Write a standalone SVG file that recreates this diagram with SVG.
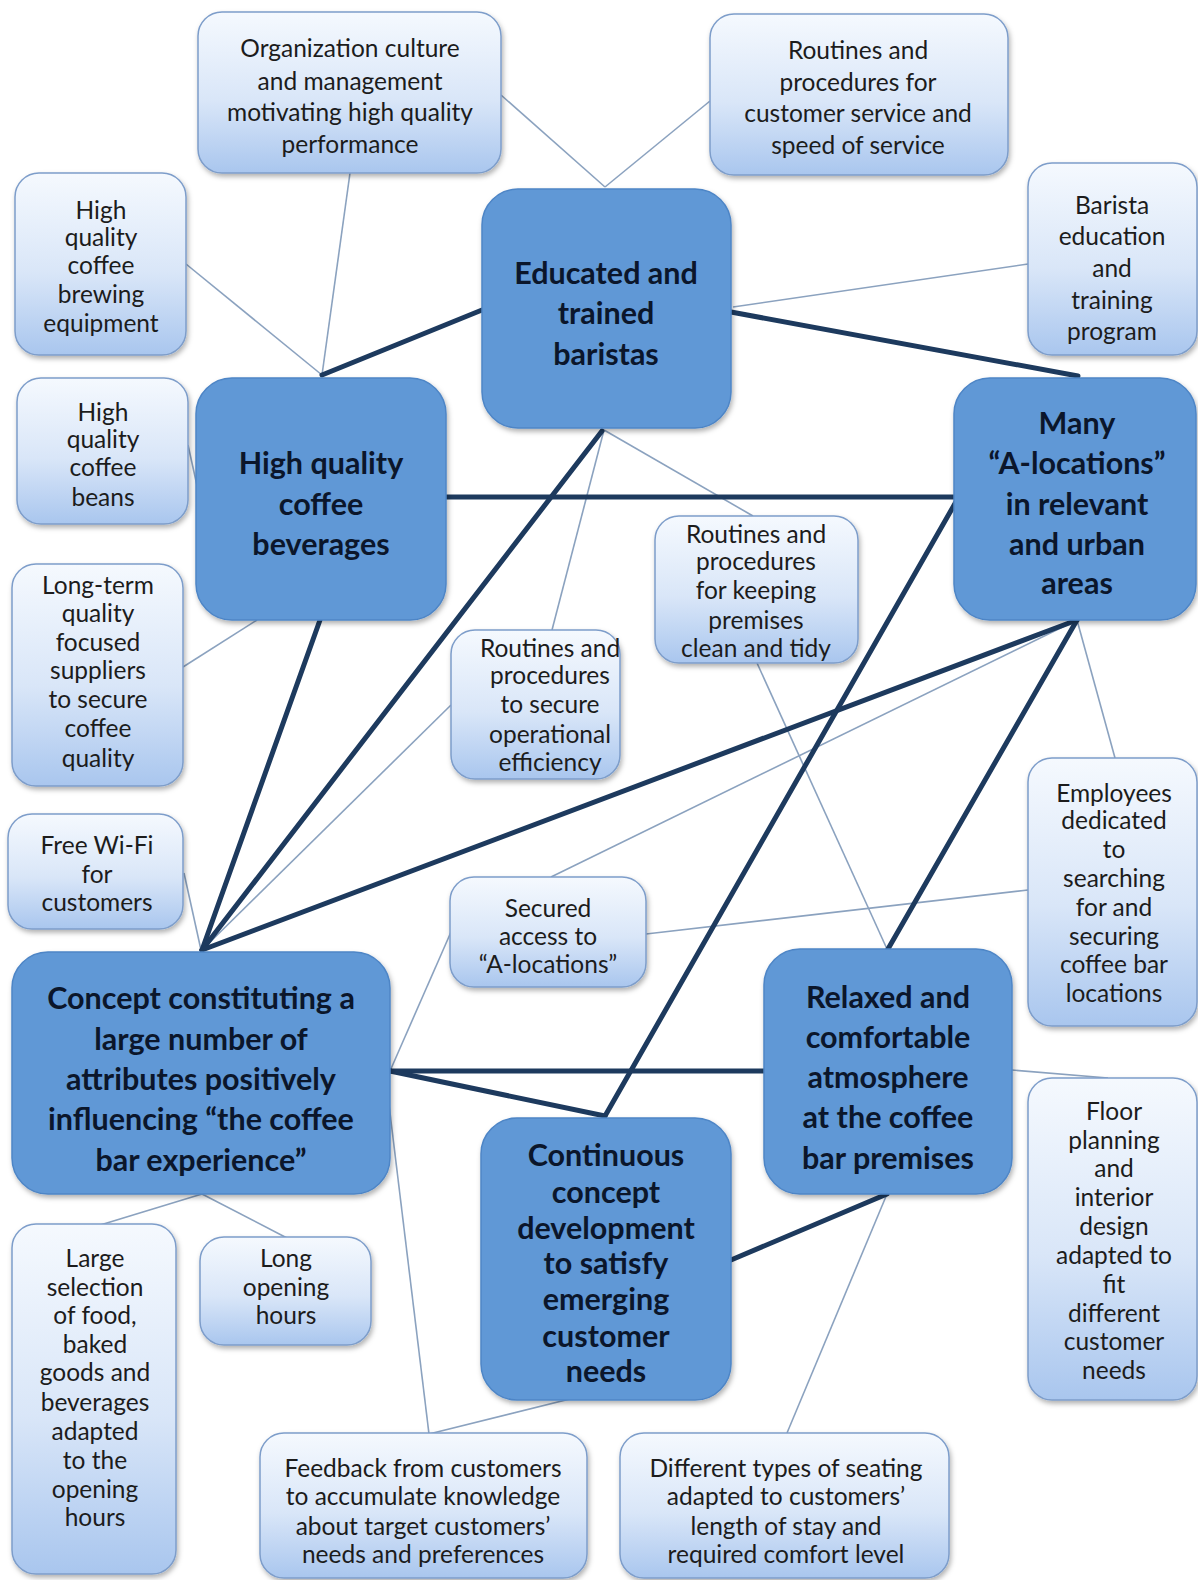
<svg xmlns="http://www.w3.org/2000/svg" width="1198" height="1580" viewBox="0 0 1198 1580">
<defs>
<linearGradient id="gs" x1="0" y1="0" x2="0" y2="1">
<stop offset="0" stop-color="#f5f9fe"/>
<stop offset="0.55" stop-color="#d9e6f8"/>
<stop offset="1" stop-color="#a9c6ee"/>
</linearGradient>
<filter id="sh" x="-10%" y="-10%" width="125%" height="125%">
<feDropShadow dx="1.5" dy="3" stdDeviation="2.5" flood-color="#000" flood-opacity="0.3"/>
</filter>
<style>
.sat rect{fill:url(#gs);stroke:#7d9dca;stroke-width:1.5;filter:url(#sh)}
.main rect{fill:#6098d6;stroke:#4d85c6;stroke-width:1.5;filter:url(#sh)}
.sat text{font-family:Lato,"Open Sans","Liberation Sans",sans-serif;font-size:24.5px;fill:#1c1c1c;text-anchor:middle;dominant-baseline:central}
.main text{font-family:Lato,"Open Sans","Liberation Sans",sans-serif;font-size:30.5px;font-weight:bold;fill:#0b162b;text-anchor:middle;dominant-baseline:central}
.thick{stroke:#1d3a5e;stroke-width:5;fill:none;stroke-linecap:round}
.thin{stroke:#8ba2bf;stroke-width:1.6;fill:none}
</style>
</defs>
<rect width="1198" height="1580" fill="#ffffff"/>
<g id="connectors">
<line class="thin" x1="350" y1="173" x2="322" y2="375"/>
<line class="thin" x1="501" y1="95" x2="605" y2="187"/>
<line class="thin" x1="710" y1="101" x2="605" y2="187"/>
<line class="thin" x1="186" y1="264" x2="322" y2="375"/>
<line class="thin" x1="1028" y1="264" x2="733" y2="307"/>
<line class="thin" x1="188" y1="445" x2="198" y2="490"/>
<line class="thin" x1="183" y1="667" x2="257" y2="620"/>
<line class="thin" x1="604" y1="430" x2="552" y2="630"/>
<line class="thin" x1="604" y1="430" x2="753" y2="516"/>
<line class="thin" x1="757" y1="663" x2="887" y2="949"/>
<line class="thin" x1="451" y1="705" x2="202" y2="950"/>
<line class="thin" x1="184" y1="873" x2="201" y2="950"/>
<line class="thin" x1="1077" y1="620" x2="551" y2="877"/>
<line class="thin" x1="1077" y1="620" x2="1115" y2="758"/>
<line class="thin" x1="1028" y1="890" x2="646" y2="934"/>
<line class="thin" x1="451" y1="932" x2="390" y2="1071"/>
<line class="thin" x1="386" y1="1080" x2="429" y2="1434"/>
<line class="thin" x1="429" y1="1434" x2="606" y2="1390"/>
<line class="thin" x1="887" y1="1194" x2="787" y2="1433"/>
<line class="thin" x1="1012" y1="1070" x2="1108" y2="1078"/>
<line class="thin" x1="202" y1="1194" x2="97" y2="1226"/>
<line class="thin" x1="202" y1="1194" x2="287" y2="1238"/>
<line class="thick" x1="322" y1="375" x2="482" y2="310"/>
<line class="thick" x1="731" y1="312" x2="1078" y2="376"/>
<line class="thick" x1="446" y1="497" x2="956" y2="497"/>
<line class="thick" x1="320" y1="620" x2="202" y2="950"/>
<line class="thick" x1="602" y1="431" x2="202" y2="950"/>
<line class="thick" x1="957" y1="500" x2="605" y2="1116"/>
<line class="thick" x1="1077" y1="620" x2="202" y2="950"/>
<line class="thick" x1="1077" y1="620" x2="888" y2="949"/>
<line class="thick" x1="390" y1="1071" x2="764" y2="1071"/>
<line class="thick" x1="390" y1="1071" x2="605" y2="1116"/>
<line class="thick" x1="731" y1="1260" x2="887" y2="1194"/>
</g>
<g id="n-org" class="sat"><rect x="198" y="12" width="303" height="161" rx="24"/>
<text x="350" y="47">Organization culture</text><text x="350" y="80">and management</text><text x="350" y="111">motivating high quality</text><text x="350" y="143">performance</text></g>
<g id="n-service" class="sat"><rect x="710" y="14" width="298" height="161" rx="24"/>
<text x="858" y="49">Routines and</text><text x="858" y="81">procedures for</text><text x="858" y="112">customer service and</text><text x="858" y="144">speed of service</text></g>
<g id="n-brewing" class="sat"><rect x="15" y="173" width="171" height="182" rx="24"/>
<text x="101" y="209">High</text><text x="101" y="236">quality</text><text x="101" y="264">coffee</text><text x="101" y="293">brewing</text><text x="101" y="322">equipment</text></g>
<g id="n-barista-edu" class="sat"><rect x="1028" y="163" width="169" height="192" rx="24"/>
<text x="1112" y="204">Barista</text><text x="1112" y="235">education</text><text x="1112" y="267">and</text><text x="1112" y="299">training</text><text x="1112" y="330">program</text></g>
<g id="n-beans" class="sat"><rect x="17" y="378" width="171" height="146" rx="24"/>
<text x="103" y="411">High</text><text x="103" y="438">quality</text><text x="103" y="466">coffee</text><text x="103" y="496">beans</text></g>
<g id="n-suppliers" class="sat"><rect x="12" y="564" width="171" height="222" rx="24"/>
<text x="98" y="584">Long-term</text><text x="98" y="612">quality</text><text x="98" y="641">focused</text><text x="98" y="669">suppliers</text><text x="98" y="698">to secure</text><text x="98" y="727">coffee</text><text x="98" y="757">quality</text></g>
<g id="n-operational" class="sat"><rect x="451" y="630" width="169" height="149" rx="24"/>
<text x="550" y="647">Routines and</text><text x="550" y="674">procedures</text><text x="550" y="703">to secure</text><text x="550" y="733">operational</text><text x="550" y="761">efficiency</text></g>
<g id="n-clean" class="sat"><rect x="655" y="516" width="203" height="147" rx="24"/>
<text x="756" y="533">Routines and</text><text x="756" y="560">procedures</text><text x="756" y="589">for keeping</text><text x="756" y="619">premises</text><text x="756" y="647">clean and tidy</text></g>
<g id="n-wifi" class="sat"><rect x="8" y="814" width="175" height="115" rx="24"/>
<text x="97" y="844">Free Wi-Fi</text><text x="97" y="873">for</text><text x="97" y="901">customers</text></g>
<g id="n-secured" class="sat"><rect x="450" y="877" width="196" height="110" rx="24"/>
<text x="548" y="907">Secured</text><text x="548" y="935">access to</text><text x="548" y="963">“A-locations”</text></g>
<g id="n-employees" class="sat"><rect x="1028" y="758" width="169" height="268" rx="24"/>
<text x="1114" y="792">Employees</text><text x="1114" y="819">dedicated</text><text x="1114" y="848">to</text><text x="1114" y="877">searching</text><text x="1114" y="906">for and</text><text x="1114" y="935">securing</text><text x="1114" y="963">coffee bar</text><text x="1114" y="992">locations</text></g>
<g id="n-floor" class="sat"><rect x="1028" y="1078" width="169" height="322" rx="24"/>
<text x="1114" y="1110">Floor</text><text x="1114" y="1139">planning</text><text x="1114" y="1167">and</text><text x="1114" y="1196">interior</text><text x="1114" y="1225">design</text><text x="1114" y="1254">adapted to</text><text x="1114" y="1283">fit</text><text x="1114" y="1312">different</text><text x="1114" y="1340">customer</text><text x="1114" y="1369">needs</text></g>
<g id="n-food" class="sat"><rect x="12" y="1224" width="164" height="350" rx="24"/>
<text x="95" y="1257">Large</text><text x="95" y="1286">selection</text><text x="95" y="1314">of food,</text><text x="95" y="1343">baked</text><text x="95" y="1371">goods and</text><text x="95" y="1401">beverages</text><text x="95" y="1430">adapted</text><text x="95" y="1459">to the</text><text x="95" y="1488">opening</text><text x="95" y="1516">hours</text></g>
<g id="n-hours" class="sat"><rect x="200" y="1237" width="171" height="108" rx="24"/>
<text x="286" y="1257">Long</text><text x="286" y="1286">opening</text><text x="286" y="1314">hours</text></g>
<g id="n-feedback" class="sat"><rect x="260" y="1433" width="327" height="145" rx="24"/>
<text x="423" y="1467">Feedback from customers</text><text x="423" y="1495">to accumulate knowledge</text><text x="423" y="1525">about target customers’</text><text x="423" y="1553">needs and preferences</text></g>
<g id="n-seating" class="sat"><rect x="620" y="1433" width="329" height="145" rx="24"/>
<text x="786" y="1467">Different types of seating</text><text x="786" y="1495">adapted to customers’</text><text x="786" y="1525">length of stay and</text><text x="786" y="1553">required comfort level</text></g>
<g id="m-baristas" class="main"><rect x="482" y="189" width="249" height="239" rx="36"/>
<text x="606" y="272">Educated and</text><text x="606" y="312">trained</text><text x="606" y="353">baristas</text></g>
<g id="m-beverages" class="main"><rect x="196" y="378" width="250" height="242" rx="36"/>
<text x="321" y="462">High quality</text><text x="321" y="503">coffee</text><text x="321" y="543">beverages</text></g>
<g id="m-locations" class="main"><rect x="954" y="378" width="242" height="242" rx="36"/>
<text x="1077" y="422">Many</text><text x="1077" y="462">“A-locations”</text><text x="1077" y="503">in relevant</text><text x="1077" y="543">and urban</text><text x="1077" y="582">areas</text></g>
<g id="m-concept" class="main"><rect x="12" y="952" width="378" height="242" rx="36"/>
<text x="201" y="997">Concept constituting a</text><text x="201" y="1038">large number of</text><text x="201" y="1078">attributes positively</text><text x="201" y="1118">influencing “the coffee</text><text x="201" y="1159">bar experience”</text></g>
<g id="m-atmosphere" class="main"><rect x="764" y="949" width="248" height="245" rx="36"/>
<text x="888" y="996">Relaxed and</text><text x="888" y="1036">comfortable</text><text x="888" y="1076">atmosphere</text><text x="888" y="1116">at the coffee</text><text x="888" y="1157">bar premises</text></g>
<g id="m-development" class="main"><rect x="481" y="1118" width="250" height="282" rx="36"/>
<text x="606" y="1154">Continuous</text><text x="606" y="1191">concept</text><text x="606" y="1227">development</text><text x="606" y="1262">to satisfy</text><text x="606" y="1298">emerging</text><text x="606" y="1335">customer</text><text x="606" y="1370">needs</text></g>
</svg>
